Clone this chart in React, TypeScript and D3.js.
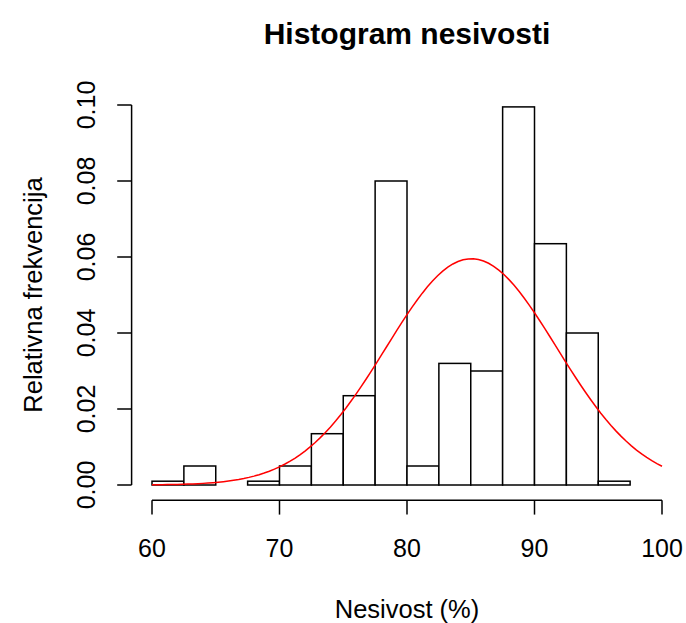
import React, { useEffect, useRef } from 'react';
import * as d3 from 'd3';

// histogram bins (lower/upper edges) and relative frequency (density)
const binStarts = [60, 62.5, 65, 67.5, 70, 72.5, 75, 77.5, 80, 82.5, 85, 87.5, 90, 92.5, 95, 97.5];
const binEnds = [62.5, 65, 67.5, 70, 72.5, 75, 77.5, 80, 82.5, 85, 87.5, 90, 92.5, 95, 97.5, 100];
const densities = [0.001, 0.005, 0, 0.001, 0.005, 0.0135, 0.0235, 0.08, 0.005, 0.032, 0.03, 0.0995, 0.0635, 0.04, 0.001, 0];

// fitted normal curve parameters
const curveMean = 85.05;
const curveSd = 6.7;

const xTicks = [60, 70, 80, 90, 100];
const yTicks = [0, 0.02, 0.04, 0.06, 0.08, 0.1];

const W = 686;
const H = 623;
const FONT = '"Liberation Sans", Arial, Helvetica, sans-serif';

const App: React.FC = () => {
  const svgRef = useRef<SVGSVGElement | null>(null);

  useEffect(() => {
    if (!svgRef.current) return;
    const svg = d3.select(svgRef.current);
    svg.selectAll('*').remove();

    // plot region (R style, 4% padding around data range)
    const x = d3.scaleLinear().domain([58.4, 101.6]).range([131.6, 682.4]);
    const y = d3.scaleLinear().domain([-0.004, 0.104]).range([500.2, 89.8]);

    const bins = binStarts.map((s, i) => ({ x0: s, x1: binEnds[i], d: densities[i] }));

    // bars
    svg.append('g')
      .selectAll('rect')
      .data(bins)
      .enter()
      .append('rect')
      .attr('x', (b) => x(b.x0))
      .attr('y', (b) => y(b.d))
      .attr('width', (b) => x(b.x1) - x(b.x0))
      .attr('height', (b) => y(0) - y(b.d))
      .attr('fill', '#FFFFFF')
      .attr('stroke', '#000000')
      .attr('stroke-width', 1.5);

    // normal density curve
    const pts = d3.range(0, 101).map((i) => {
      const v = 60 + (i * 40) / 100;
      const z = (v - curveMean) / curveSd;
      return [v, Math.exp(-0.5 * z * z) / (curveSd * Math.sqrt(2 * Math.PI))] as [number, number];
    });
    const line = d3.line<[number, number]>()
      .x((p) => x(p[0]))
      .y((p) => y(p[1]));
    svg.append('path')
      .datum(pts)
      .attr('d', line)
      .attr('fill', 'none')
      .attr('stroke', '#FF0000')
      .attr('stroke-width', 1.5);

    // x axis
    const xAxisY = y(-0.004);
    const xa = svg.append('g');
    xa.append('line')
      .attr('x1', x(60)).attr('x2', x(100))
      .attr('y1', xAxisY).attr('y2', xAxisY)
      .attr('stroke', '#000').attr('stroke-width', 1.5);
    xTicks.forEach((t) => {
      xa.append('line')
        .attr('x1', x(t)).attr('x2', x(t))
        .attr('y1', xAxisY).attr('y2', xAxisY + 14.4)
        .attr('stroke', '#000').attr('stroke-width', 1.5);
      xa.append('text')
        .attr('x', x(t)).attr('y', 557)
        .attr('text-anchor', 'middle')
        .style('font-family', FONT).style('font-size', '25px')
        .text(String(t));
    });

    // y axis
    const yAxisX = x(58.4);
    const ya = svg.append('g');
    ya.append('line')
      .attr('x1', yAxisX).attr('x2', yAxisX)
      .attr('y1', y(0)).attr('y2', y(0.1))
      .attr('stroke', '#000').attr('stroke-width', 1.5);
    yTicks.forEach((t) => {
      ya.append('line')
        .attr('x1', yAxisX - 14.4).attr('x2', yAxisX)
        .attr('y1', y(t)).attr('y2', y(t))
        .attr('stroke', '#000').attr('stroke-width', 1.5);
      ya.append('text')
        .attr('transform', `translate(95,${y(t)}) rotate(-90)`)
        .attr('text-anchor', 'middle')
        .style('font-family', FONT).style('font-size', '25px')
        .text(t.toFixed(2));
    });

    // titles
    const cx = (x.range()[0] + x.range()[1]) / 2;
    svg.append('text')
      .attr('x', cx).attr('y', 43.5)
      .attr('text-anchor', 'middle')
      .style('font-family', FONT).style('font-size', '30px').style('font-weight', 'bold')
      .text('Histogram nesivosti');
    svg.append('text')
      .attr('x', cx).attr('y', 618)
      .attr('text-anchor', 'middle')
      .style('font-family', FONT).style('font-size', '25.5px')
      .text('Nesivost (%)');
    svg.append('text')
      .attr('transform', `translate(42,${(y.range()[0] + y.range()[1]) / 2}) rotate(-90)`)
      .attr('text-anchor', 'middle')
      .style('font-family', FONT).style('font-size', '25.5px')
      .text('Relativna frekvencija');
  }, []);

  return (
    <svg
      ref={svgRef}
      width={W}
      height={H}
      style={{ position: 'absolute', left: 0, top: 0, background: '#FFFFFF' }}
    />
  );
};

export default App;
